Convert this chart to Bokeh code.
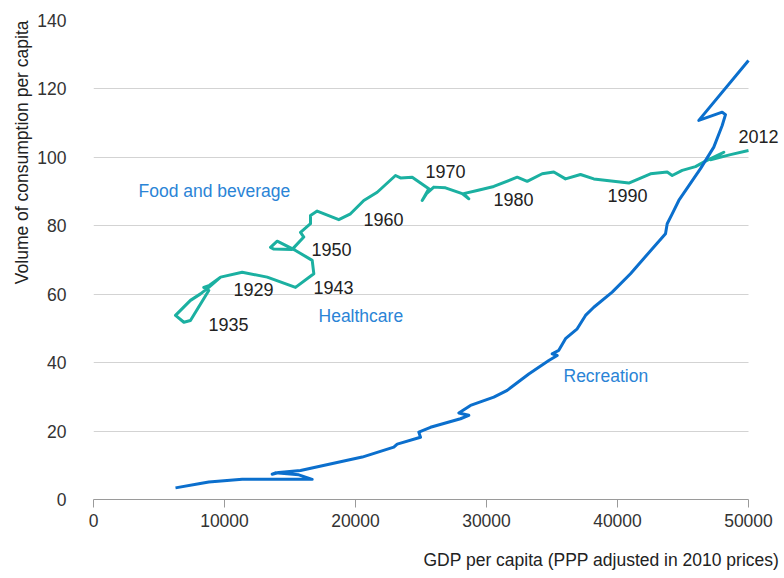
from bokeh.plotting import figure
from bokeh.models import Label, Range1d, FixedTicker, Title
from bokeh.embed import file_html
from bokeh.resources import INLINE

# Food and beverage path (GDP per capita, volume of consumption)
food_x = [11350, 9700, 8800, 8170, 7400, 6260, 6900, 7400, 8800, 8420, 8855, 9700,
          11350, 13260, 15420, 16817, 16695, 15420, 14023, 13512, 13764, 15168,
          16054, 15802, 16565, 16565, 17076, 18725, 19618, 20634, 21657, 23053,
          23435, 24328, 25596, 25092, 25420, 25977, 26870, 28145, 28649, 28244,
          29290, 30557, 32344, 33107, 34252, 35138, 36031, 37176, 38191, 40863,
          42519, 43794, 44176, 44939, 45954, 46718, 48115, 47100, 48626, 50000]
food_y = [66.4, 65.0, 62.0, 60.1, 58.2, 53.8, 51.8, 52.3, 61.1, 62.0, 62.6, 65.0,
          66.4, 65.0, 62.0, 66.0, 69.9, 72.8, 75.5, 73.7, 73.2, 73.1,
          76.7, 78.1, 80.6, 83.0, 84.3, 81.8, 83.5, 87.4, 89.8, 94.7,
          94.0, 94.2, 90.8, 87.4, 89.4, 91.3, 91.1, 89.4, 87.9, 89.4,
          90.3, 91.5, 94.2, 93.0, 95.2, 95.7, 93.7, 95.0, 93.7, 92.5,
          95.2, 95.7, 94.7, 96.2, 97.3, 98.9, 101.5, 99.3, 100.8, 102.0]

# Recreation path
rec_x = [6260, 8038, 8802, 11351, 16695, 15674, 13893, 13641, 14145, 15802, 20512,
         22924, 23184, 24962, 24832, 25725, 28015, 28649, 27886, 28779, 30557,
         31580, 33229, 34756, 35397, 35015, 35519, 36031, 36924, 37557, 38191,
         39595, 40992, 43664, 43794, 44176, 44680, 46336, 47351, 47992, 48244,
         47992, 46206, 50000]
rec_y = [3.4, 4.6, 5.1, 5.9, 5.9, 7.2, 7.8, 7.4, 7.9, 8.5, 12.4,
         15.3, 16.2, 18.2, 19.7, 21.1, 23.6, 24.6, 25.3, 27.5, 29.9,
         31.9, 36.7, 40.6, 42.1, 42.6, 43.6, 47.0, 49.9, 53.8, 56.2,
         60.6, 66.0, 77.7, 80.6, 83.5, 87.4, 96.7, 103.0, 109.3, 112.5,
         113.2, 110.8, 128.3]

x_ticks = [0, 10000, 20000, 30000, 40000, 50000]
y_ticks = [0, 20, 40, 60, 80, 100, 120, 140]

year_labels = ["1935", "1929", "1943", "1950", "1960", "1970", "1980", "1990", "2012"]
year_label_x = [8779, 10687, 16794, 16642, 20611, 25344, 30534, 39237, 49237]
year_label_y = [51.2, 61.4, 62.0, 73.1, 81.8, 95.9, 87.7, 88.9, 106.1]

series_labels = ["Food and beverage", "Healthcare", "Recreation"]
series_label_x = [3435, 17176, 35878]
series_label_y = [90.3, 53.5, 36.2]

FONT = "Liberation Sans"
TEAL = "#1BB0A1"
BLUE = "#0B6FCD"
LBLUE = "#2A84D6"

X_MAX = 50000
FRAME_W = 686
PLOT_W = 655  # pixels spanned by 0..X_MAX
x_end = X_MAX * FRAME_W / PLOT_W

p = figure(width=784, height=578, output_backend="svg", toolbar_location=None,
           x_range=Range1d(0, x_end), y_range=Range1d(0, 140),
           frame_width=FRAME_W, frame_height=479,
           min_border_left=93, min_border_right=5, min_border_top=20, min_border_bottom=79)
p.outline_line_color = None
p.background_fill_color = "white"

p.xgrid.grid_line_color = None
p.ygrid.grid_line_color = "#D3D3D3"
p.ygrid.grid_line_width = 1
p.ygrid.cross_bounds = (0, X_MAX)

p.xaxis.ticker = FixedTicker(ticks=x_ticks)
p.yaxis.ticker = FixedTicker(ticks=y_ticks)
p.xaxis.bounds = (0, X_MAX)
p.xaxis.minor_tick_line_color = None
p.yaxis.minor_tick_line_color = None
p.xaxis.axis_line_color = "#9A9A9A"
p.xaxis.major_tick_line_color = "#9A9A9A"
p.xaxis.major_tick_out = 8
p.xaxis.major_tick_in = 0
p.xaxis.major_label_standoff = 6
p.yaxis.axis_line_color = None
p.yaxis.major_tick_line_color = None
p.yaxis.major_tick_out = 0
p.yaxis.major_tick_in = 0
p.yaxis.major_label_standoff = 27
for ax in (p.xaxis, p.yaxis):
    ax.major_label_text_font = FONT
    ax.major_label_text_font_size = "17.5px"
    ax.major_label_text_color = "#333333"

p.add_layout(Title(text="GDP per capita (PPP adjusted in 2010 prices)", align="right",
                   text_font=FONT, text_font_size="17.5px", text_font_style="normal",
                   text_color="#222222", standoff=36), "below")
p.add_layout(Title(text="Volume of consumption per capita", align="right",
                   text_font=FONT, text_font_size="17.5px", text_font_style="normal",
                   text_color="#222222", standoff=6), "left")

p.line(food_x, food_y, line_color=TEAL, line_width=3, line_join="round")
p.line(rec_x, rec_y, line_color=BLUE, line_width=3, line_join="round")

for t, x, y in zip(year_labels, year_label_x, year_label_y):
    p.add_layout(Label(x=x, y=y, text=t, text_font=FONT, text_font_size="18px",
                       text_color="#222222", text_baseline="middle", text_align="left"))
for t, x, y in zip(series_labels, series_label_x, series_label_y):
    p.add_layout(Label(x=x, y=y, text=t, text_font=FONT, text_font_size="17.5px",
                       text_color=LBLUE, text_baseline="middle", text_align="left"))

open("out.html", "w").write(file_html(p, INLINE))
